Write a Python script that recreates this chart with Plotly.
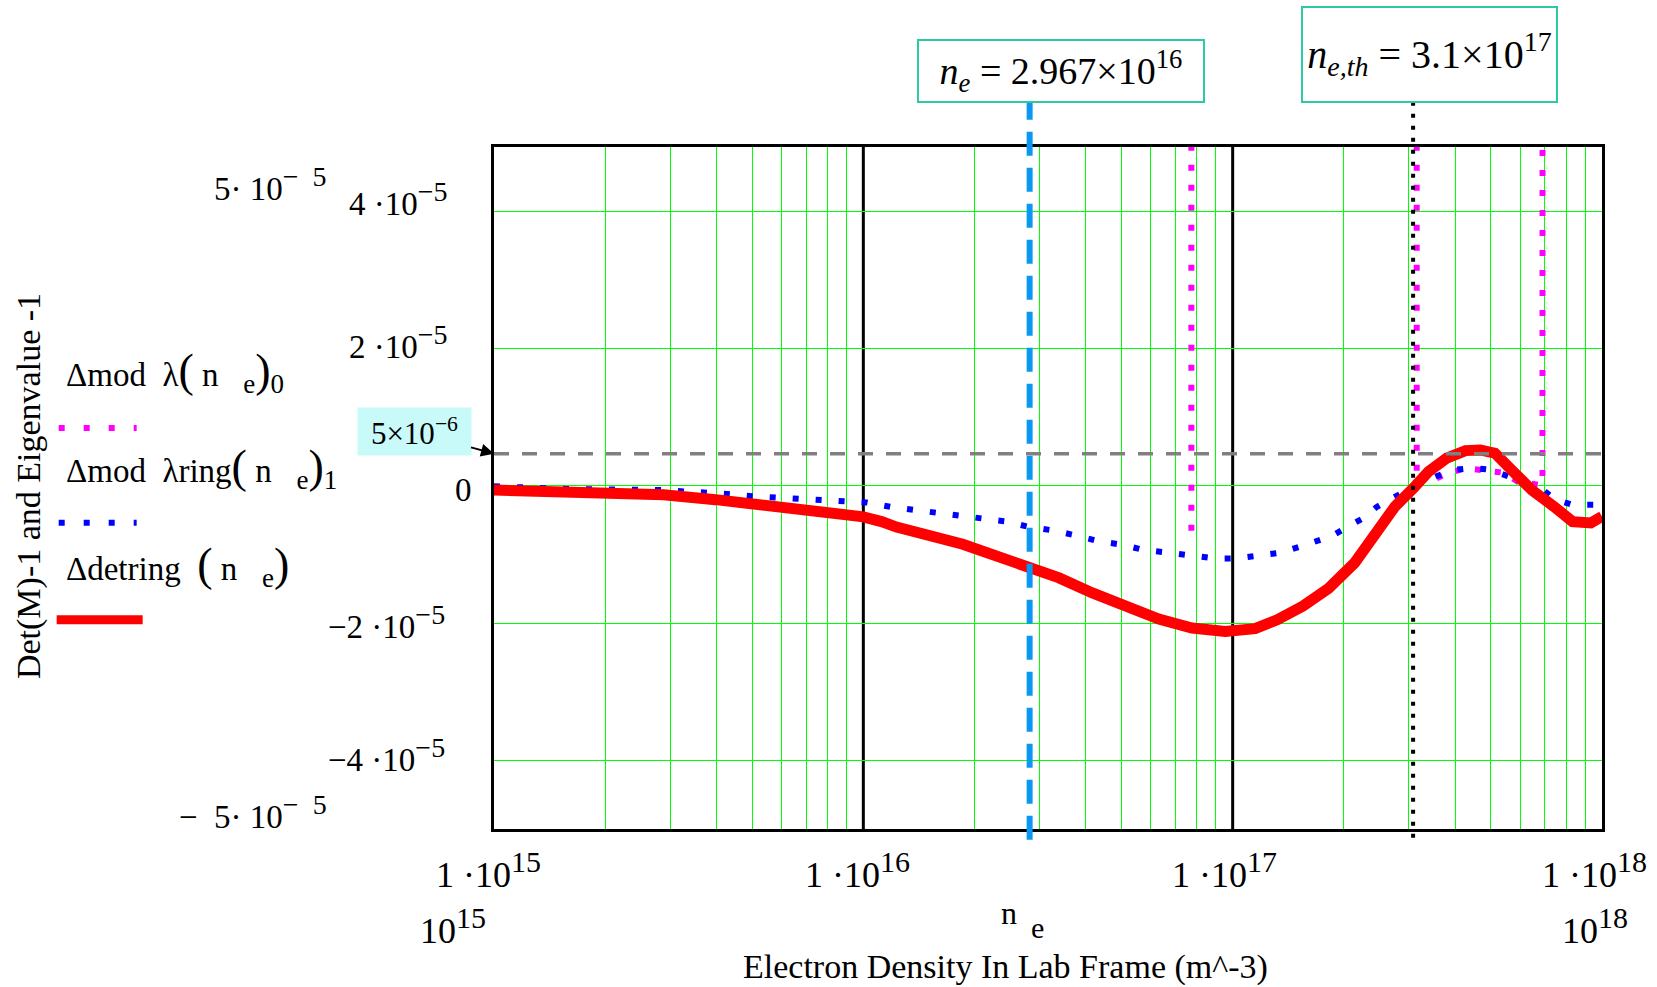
import plotly.graph_objects as go

# ---------------- data ----------------
# electron density (m^-3) and values in units of 1e-6
det_ne = [1.00e15, 1.51e15, 2.88e15, 3.98e15, 4.90e15, 7.41e15, 1.00e16, 1.12e16,
          1.23e16, 1.86e16, 2.24e16, 2.75e16, 3.39e16, 4.17e16, 5.13e16, 6.31e16,
          7.76e16, 9.55e16, 1.15e17, 1.32e17, 1.55e17, 1.82e17, 2.14e17, 2.51e17,
          2.75e17, 3.09e17, 3.39e17, 3.80e17, 4.27e17, 4.68e17, 5.13e17, 5.75e17,
          6.46e17, 7.41e17, 8.32e17, 9.33e17, 1.00e18]
det_val = [-0.6, -0.8, -1.3, -2.0, -2.5, -3.5, -4.5, -5.2,
           -6.0, -8.5, -10.0, -11.5, -13.4, -15.6, -17.5, -19.4,
           -20.7, -21.2, -20.8, -19.5, -17.5, -14.9, -11.2, -6.4,
           -3.0, -0.3, 2.1, 4.05, 5.15, 5.25, 4.77, 2.1,
           -0.6, -3.0, -5.2, -5.4, -4.45]

ring_ne = [1.00e15, 1.17e15, 1.58e15, 2.82e15, 3.24e15, 3.98e15, 5.01e15, 6.76e15,
           8.91e15, 1.02e16, 1.20e16, 1.58e16, 1.82e16, 2.14e16, 2.45e16, 2.82e16,
           3.24e16, 3.80e16, 4.37e16, 5.01e16, 5.75e16, 6.76e16, 7.76e16, 8.91e16,
           1.02e17, 1.20e17, 1.35e17, 1.51e17, 1.70e17, 1.86e17, 2.04e17, 2.24e17,
           2.45e17, 2.69e17, 2.95e17, 3.55e17, 3.98e17, 4.47e17, 5.01e17, 5.62e17,
           6.92e17, 7.41e17, 8.32e17, 9.55e17, 1.00e18]
ring_val = [-0.05, -0.17, -0.45, -0.6, -0.7, -1.05, -1.5, -1.9,
            -2.3, -2.4, -3.1, -3.96, -4.35, -4.8, -5.2, -6.0,
            -6.45, -7.27, -8.1, -8.55, -9.35, -9.74, -10.17, -10.56,
            -10.56, -10.17, -9.74, -8.9, -8.1, -7.27, -6.0, -4.8,
            -3.1, -1.9, -0.67, 1.37, 2.34, 2.63, 2.34, 1.32,
            -0.57, -1.88, -2.75, -2.75, -2.7]

# lambda_0 : mostly off scale (diverging), visible only near resonances
lam0_ne = [7.72e16, 7.73e16, None, 3.14e17, 3.15e17, 3.49e17, 3.85e17, 4.28e17,
           4.85e17, 5.46e17, 5.92e17, 6.90e17, 6.96e17]
lam0_val = [1000, -7.26, None, 1000, 0.3, 0.9, 1.9, 2.6,
            2.2, 1.9, 0.6, 0.1, 1000]

ne_marker = 2.82e16      # vertical dashed marker
ne_th = 3.08e17          # threshold dotted marker
thr_level = 4.7e-6       # horizontal dashed level
decades = [1e16, 1e17]
minor_grid = [k * 10.0 ** d for d in (15, 16, 17) for k in range(2, 10)]
y_grid = [-4e-5, -2e-5, 0, 2e-5, 4e-5]

SUPX = "<sup><span style='font-size:30px'>%s</span></sup>"
SUPY = "<sup><span style='font-size:28px'>%s</span></sup>"
x_tick_text = ["1 ·10" + SUPX % "15", "1 ·10" + SUPX % "16", "1 ·10" + SUPX % "17", "1 ·10" + SUPX % "18"]
y_tick_text = ["4 ·10" + SUPY % "−5", "2 ·10" + SUPY % "−5", "0",
               "−2 ·10" + SUPY % "−5", "−4 ·10" + SUPY % "−5"]

# ---------------- geometry helpers ----------------
W, H = 1657, 987
PL, PR, PT, PB = 493.5, 1602.0, 147.0, 829.3
PWID, PHGT = PR - PL, PB - PT


def px(x):
    return (x - PL) / PWID


def py(y):
    return (PB - y) / PHGT


FONT = "Liberation Serif"
E6 = 1e-6

fig = go.Figure()

fig.add_trace(go.Scatter(
    x=lam0_ne, y=[None if v is None else v * E6 for v in lam0_val],
    mode="lines", line=dict(color="#FF00FF", width=6, dash="6px,14px"),
    connectgaps=False, showlegend=False, hoverinfo="skip"))
fig.add_trace(go.Scatter(
    x=ring_ne, y=[v * E6 for v in ring_val],
    mode="lines", line=dict(color="#0000FF", width=6, dash="6px,17px"),
    showlegend=False, hoverinfo="skip"))
fig.add_trace(go.Scatter(
    x=det_ne, y=[v * E6 for v in det_val],
    mode="lines", line=dict(color="#FF0000", width=11),
    showlegend=False, hoverinfo="skip"))

shapes = []
for d in decades:
    shapes.append(dict(type="line", xref="x", yref="paper", x0=d, x1=d, y0=0, y1=1,
                       line=dict(color="black", width=3), layer="between"))
# vertical marker lines (extend beyond plot area)
shapes.append(dict(type="line", xref="x", yref="paper", x0=ne_marker, x1=ne_marker,
                   y0=py(840), y1=py(102.5), line=dict(color="#0A98F2", width=6, dash="24px,12px"),
                   layer="above"))
shapes.append(dict(type="line", xref="x", yref="paper", x0=ne_th, x1=ne_th,
                   y0=py(838), y1=py(102.5), line=dict(color="black", width=4, dash="4px,8px"),
                   layer="above"))
shapes.append(dict(type="line", xref="paper", yref="y", x0=0, x1=1.004, y0=thr_level, y1=thr_level,
                   line=dict(color="#808080", width=3.5, dash="15px,13px"), layer="above"))
# legend samples
shapes.append(dict(type="line", xref="paper", yref="paper", x0=px(58), x1=px(136), y0=py(428), y1=py(428),
                   line=dict(color="#FF00FF", width=6, dash="6px,19px")))
shapes.append(dict(type="line", xref="paper", yref="paper", x0=px(58), x1=px(136), y0=py(523), y1=py(523),
                   line=dict(color="#0000FF", width=6, dash="6px,19px")))
shapes.append(dict(type="line", xref="paper", yref="paper", x0=px(56), x1=px(142), y0=py(620), y1=py(620),
                   line=dict(color="#FF0000", width=9)))

ann = []


def text(t, x, y, size, xanchor="center", yanchor="middle", angle=0):
    ann.append(dict(text=t, x=px(x), y=py(y), xref="paper", yref="paper", showarrow=False,
                    xanchor=xanchor, yanchor=yanchor, textangle=angle,
                    font=dict(family=FONT, size=size, color="black")))


# x tick labels
for t, xc in zip(x_tick_text, [487.7, 857, 1224, 1594.7]):
    text(t, xc, 870, 36)
text("10" + SUPX % "15", 452, 926, 36)
text("10" + SUPX % "18", 1595, 926, 36)
text("n", 1009, 913, 32)
text("e", 1037, 928, 30)
text("Electron Density In Lab Frame (m^-3)", 1005, 967, 34)

# y tick labels
for t, yc, xr in zip(y_tick_text, [199, 342, 490, 622, 755], [449, 449, 473, 446, 446]):
    text(t, xr, yc, 33, xanchor="right")
text("5· 10" + SUPY % "−  5", 328, 184, 33, xanchor="right")
text("−  5· 10" + SUPY % "−  5", 328, 812, 33, xanchor="right")
text("Det(M)-1 and Eigenvalue -1", 28.5, 486, 34, angle=-90)

# legend texts
BIG = "<span style='font-size:46px'>%s</span>"
SUB = "<sub><span style='font-size:27px'>%s</span></sub>"
text("Δmod  λ" + BIG % "(" + " n   " + SUB % "e" + BIG % ")" + SUB % "0", 63, 372, 33, xanchor="left")
text("Δmod  λring" + BIG % "(" + " n   " + SUB % "e" + BIG % ")" + SUB % "1", 63, 468, 33, xanchor="left")
text("Δdetring  " + BIG % "(" + " n   " + SUB % "e" + BIG % ")", 63, 566, 33, xanchor="left")

# boxes at top
BOX = "#2CC9A2"
ann.append(dict(text="<i>n</i><sub><i>e</i></sub> = 2.967×10<sup>16</sup>",
                x=px(1061), y=py(70.75), xref="paper", yref="paper", showarrow=False,
                xanchor="center", yanchor="middle", width=284, height=59.5, borderpad=0,
                bordercolor=BOX, borderwidth=2, bgcolor="white",
                font=dict(family=FONT, size=38, color="black")))
ann.append(dict(text="<i>n</i><sub><i>e,th</i></sub> = 3.1×10<sup>17</sup>",
                x=px(1429.5), y=py(54.25), xref="paper", yref="paper", showarrow=False,
                xanchor="center", yanchor="middle", width=253, height=92.5, borderpad=0,
                bordercolor=BOX, borderwidth=2, bgcolor="white",
                font=dict(family=FONT, size=40, color="black")))
# threshold label with arrow
ann.append(dict(text="5×10<sup>−6</sup>", x=0, y=thr_level, xref="paper", yref="y",
                showarrow=True, ax=-80, ay=-22, arrowhead=2, arrowsize=1.3, arrowwidth=2,
                arrowcolor="black", width=113, height=47, borderpad=0, bgcolor="#C8FAFA",
                font=dict(family=FONT, size=31, color="black")))

fig.update_layout(
    width=W, height=H, autosize=False,
    margin=dict(l=PL, r=W - PR, t=PT, b=H - PB, pad=0),
    paper_bgcolor="white", plot_bgcolor="white",
    showlegend=False,
    xaxis=dict(type="log", range=[15, 18], tickvals=minor_grid, showticklabels=False,
               ticks="", showgrid=True, gridcolor="#00FF00", gridwidth=1,
               showline=True, mirror=True, linecolor="black", linewidth=3, zeroline=False),
    yaxis=dict(range=[-5.0e-5, 4.94e-5], tickvals=y_grid, showticklabels=False, ticks="",
               showgrid=True, gridcolor="#00FF00", gridwidth=1, zeroline=False,
               showline=True, mirror=True, linecolor="black", linewidth=3),
    shapes=shapes, annotations=ann,
)

fig.write_html("out.html")
